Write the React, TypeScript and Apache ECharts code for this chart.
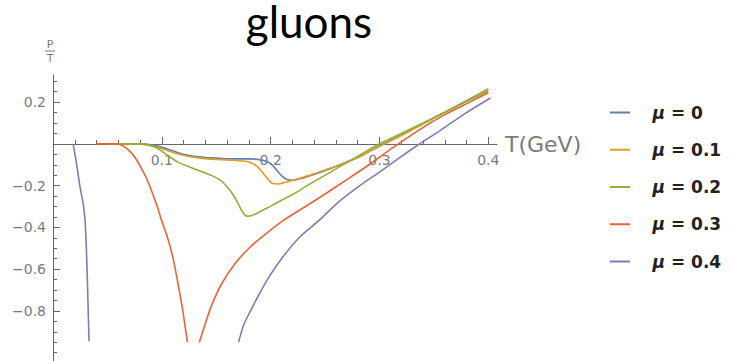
import React, { useEffect, useRef } from 'react';
import * as echarts from 'echarts';

// μ = 0
const T_MU0 = [0.05, 0.08, 0.09, 0.098, 0.107, 0.115, 0.122, 0.13, 0.14, 0.15, 0.16, 0.17, 0.18, 0.188, 0.195, 0.2, 0.205, 0.21, 0.215, 0.221, 0.23, 0.24, 0.252, 0.265, 0.282, 0.3, 0.32, 0.34, 0.36, 0.38, 0.4];
const P_MU0 = [0, 0, -0.004, -0.013, -0.028, -0.042, -0.052, -0.06, -0.065, -0.068, -0.071, -0.072, -0.072, -0.074, -0.082, -0.095, -0.122, -0.152, -0.17, -0.174, -0.163, -0.146, -0.124, -0.097, -0.06, -0.01, 0.043, 0.098, 0.152, 0.207, 0.263];
// μ = 0.1
const T_MU1 = [0.05, 0.075, 0.085, 0.095, 0.105, 0.115, 0.125, 0.135, 0.145, 0.155, 0.165, 0.175, 0.182, 0.188, 0.193, 0.198, 0.202, 0.207, 0.213, 0.222, 0.235, 0.25, 0.265, 0.282, 0.3, 0.32, 0.34, 0.36, 0.38, 0.4];
const P_MU1 = [0, 0, -0.004, -0.015, -0.032, -0.048, -0.06, -0.068, -0.073, -0.076, -0.078, -0.082, -0.09, -0.11, -0.14, -0.172, -0.19, -0.192, -0.185, -0.172, -0.152, -0.125, -0.097, -0.06, -0.012, 0.04, 0.095, 0.15, 0.205, 0.262];
// μ = 0.2
const T_MU2 = [0.05, 0.08, 0.09, 0.098, 0.106, 0.114, 0.122, 0.13, 0.138, 0.146, 0.154, 0.16, 0.165, 0.17, 0.174, 0.178, 0.183, 0.19, 0.2, 0.21, 0.221, 0.232, 0.243, 0.255, 0.268, 0.282, 0.298, 0.32, 0.34, 0.36, 0.38, 0.4];
const P_MU2 = [0, 0, -0.008, -0.028, -0.058, -0.085, -0.104, -0.12, -0.136, -0.152, -0.175, -0.205, -0.24, -0.285, -0.325, -0.346, -0.343, -0.325, -0.298, -0.27, -0.24, -0.205, -0.171, -0.135, -0.095, -0.053, -0.005, 0.05, 0.1, 0.152, 0.203, 0.253];
// μ = 0.3 (two branches)
const T_MU3_LOW = [0.04, 0.059, 0.065, 0.071, 0.076, 0.08, 0.085, 0.089, 0.0956, 0.1, 0.105, 0.11, 0.114, 0.119, 0.1235];
const P_MU3_LOW = [0, 0, -0.012, -0.037, -0.07, -0.105, -0.155, -0.203, -0.298, -0.37, -0.445, -0.54, -0.645, -0.79, -0.95];
const T_MU3_HIGH = [0.1345, 0.14, 0.146, 0.155, 0.167, 0.181, 0.197, 0.213, 0.232, 0.25, 0.268, 0.287, 0.305, 0.316, 0.338, 0.36, 0.383, 0.4];
const P_MU3_HIGH = [-0.95, -0.86, -0.77, -0.67, -0.575, -0.495, -0.425, -0.362, -0.3, -0.24, -0.178, -0.112, -0.045, -0.005, 0.072, 0.14, 0.2, 0.245];
// μ = 0.4 (two branches)
const T_MU4_LOW = [0.0185, 0.0215, 0.0248, 0.0276, 0.0294, 0.0305, 0.0313, 0.0322, 0.0331];
const P_MU4_LOW = [0, -0.09, -0.205, -0.283, -0.362, -0.48, -0.6, -0.77, -0.945];
const T_MU4_HIGH = [0.1705, 0.175, 0.181, 0.189, 0.197, 0.21, 0.227, 0.2455, 0.262, 0.282, 0.3, 0.318, 0.334, 0.356, 0.38, 0.402];
const P_MU4_HIGH = [-0.95, -0.87, -0.805, -0.725, -0.65, -0.55, -0.445, -0.362, -0.28, -0.2, -0.135, -0.068, -0.01, 0.065, 0.15, 0.22];

const SERIES_NAMES = ['μ = 0', 'μ = 0.1', 'μ = 0.2', 'μ = 0.3', 'μ = 0.4'];
const COLORS = ['#5E81B5', '#E19C24', '#8FB032', '#EB6235', '#8778B3'];

const X_MAJOR = [0.1, 0.2, 0.3, 0.4];
const X_MINOR = [0.02, 0.04, 0.06, 0.08, 0.12, 0.14, 0.16, 0.18, 0.22, 0.24, 0.26, 0.28, 0.32, 0.34, 0.36, 0.38];
const Y_MAJOR = [-0.8, -0.6, -0.4, -0.2, 0.2];
const Y_MINOR = [-1.0, -0.95, -0.9, -0.85, -0.75, -0.7, -0.65, -0.55, -0.5, -0.45, -0.35, -0.3, -0.25, -0.15, -0.1, -0.05, 0.05, 0.1, 0.15, 0.25, 0.3];

const X_MIN = 0;
const X_MAX = 0.408;
const Y_MIN = -1.04;
const Y_MAX = 0.33;

const AXIS_COLOR = '#666';
const LABEL_COLOR = '#7a7a7a';
const LABEL_FONT = 'DejaVu Sans';

const pairs = (t: number[], p: number[]) => t.map((v, i) => [v, p[i]]);

function lineSeries(name: string, color: string, data: number[][]) {
  return {
    type: 'line',
    name,
    color,
    data,
    xAxisIndex: 0,
    yAxisIndex: 0,
    showSymbol: false,
    symbol: 'none',
    smooth: 0.25,
    lineStyle: { width: 1.6, color },
    itemStyle: { color },
    z: 3,
  };
}

export default function App() {
  const ref = useRef<HTMLDivElement>(null);
  useEffect(() => {
    if (!ref.current) return;
    const chart = echarts.init(ref.current, null, { renderer: 'svg' });
    const fmt = (v: number) => v.toFixed(1).replace('-', '\u2212');
    const option = {
      animation: false,
      backgroundColor: '#ffffff',
      grid: [
        // plot area
        { left: 53, top: 75, right: 235, bottom: 0, containLabel: false, outerBoundsMode: 'none' },
        // band whose bottom edge is the T axis at P = 0
        { left: 53, top: 75, right: 235, bottom: 217, containLabel: false, outerBoundsMode: 'none' },
      ],
      xAxis: [
        {
          type: 'value',
          gridIndex: 0,
          min: X_MIN,
          max: X_MAX,
          show: false,
        },
        {
          type: 'value',
          gridIndex: 1,
          position: 'bottom',
          min: X_MIN,
          max: X_MAX,
          axisLine: { show: true, onZero: false, lineStyle: { color: AXIS_COLOR, width: 1 } },
          axisTick: { show: true, inside: true, length: 7, customValues: X_MAJOR, lineStyle: { color: AXIS_COLOR } },
          axisLabel: {
            show: true,
            customValues: X_MAJOR,
            formatter: fmt,
            margin: 9,
            color: LABEL_COLOR,
            fontFamily: LABEL_FONT,
            fontSize: 14,
          },
          splitLine: { show: false },
          name: 'T(GeV)',
          nameLocation: 'end',
          nameGap: 8,
          nameTextStyle: { color: LABEL_COLOR, fontFamily: LABEL_FONT, fontSize: 22, verticalAlign: 'middle' },
        },
        {
          type: 'value',
          gridIndex: 1,
          position: 'bottom',
          min: X_MIN,
          max: X_MAX,
          axisLine: { show: false, onZero: false },
          axisTick: { show: true, inside: true, length: 4, customValues: X_MINOR, lineStyle: { color: AXIS_COLOR } },
          axisLabel: { show: false },
          splitLine: { show: false },
        },
      ],
      yAxis: [
        {
          type: 'value',
          gridIndex: 0,
          position: 'left',
          min: Y_MIN,
          max: Y_MAX,
          axisLine: { show: true, onZero: false, lineStyle: { color: AXIS_COLOR, width: 1 } },
          axisTick: { show: true, inside: true, length: 7, customValues: Y_MAJOR, lineStyle: { color: AXIS_COLOR } },
          axisLabel: {
            show: true,
            customValues: Y_MAJOR,
            formatter: fmt,
            margin: 7,
            color: LABEL_COLOR,
            fontFamily: LABEL_FONT,
            fontSize: 14,
          },
          splitLine: { show: false },
        },
        {
          type: 'value',
          gridIndex: 0,
          position: 'left',
          min: Y_MIN,
          max: Y_MAX,
          axisLine: { show: false, onZero: false },
          axisTick: { show: true, inside: true, length: 4, customValues: Y_MINOR, lineStyle: { color: AXIS_COLOR } },
          axisLabel: { show: false },
          splitLine: { show: false },
        },
        {
          type: 'value',
          gridIndex: 1,
          min: 0,
          max: 1,
          show: false,
        },
      ],
      legend: {
        show: true,
        orient: 'vertical',
        left: 605,
        top: 99,
        itemWidth: 33,
        itemHeight: 2,
        itemGap: 20.25,
        icon: 'path://M0 0 H10 V1 H0 Z',
        data: SERIES_NAMES,
        formatter: (name: string) => `{m|μ}{v|${name.slice(1)}}`,
        textStyle: {
          color: '#222',
          fontFamily: LABEL_FONT,
          fontWeight: 'bold',
          fontSize: 17,
          rich: {
            m: { fontFamily: LABEL_FONT, fontStyle: 'italic', fontWeight: 'bold', fontSize: 17, lineHeight: 20, color: '#222', padding: [0, 0, 0, 11] },
            v: { fontFamily: LABEL_FONT, fontWeight: 'bold', fontSize: 17, lineHeight: 20, color: '#222' },
          },
        },
      },
      graphic: [
        {
          type: 'text',
          x: 309,
          y: 21,
          style: { text: 'gluons', font: '44px Lato', fill: '#000', align: 'center', verticalAlign: 'middle' },
        },
        {
          type: 'text',
          x: 50,
          y: 44,
          style: { text: 'P', fontSize: 11, fontFamily: LABEL_FONT, fill: LABEL_COLOR, align: 'center', verticalAlign: 'middle' },
        },
        {
          type: 'line',
          shape: { x1: 45, y1: 51, x2: 55, y2: 51 },
          style: { stroke: LABEL_COLOR, lineWidth: 1 },
        },
        {
          type: 'text',
          x: 50,
          y: 58,
          style: { text: 'T', fontSize: 11, fontFamily: LABEL_FONT, fill: LABEL_COLOR, align: 'center', verticalAlign: 'middle' },
        },
      ],
      series: [
        lineSeries(SERIES_NAMES[0], COLORS[0], pairs(T_MU0, P_MU0)),
        lineSeries(SERIES_NAMES[1], COLORS[1], pairs(T_MU1, P_MU1)),
        lineSeries(SERIES_NAMES[2], COLORS[2], pairs(T_MU2, P_MU2)),
        lineSeries(SERIES_NAMES[3], COLORS[3], pairs(T_MU3_LOW, P_MU3_LOW)),
        lineSeries(SERIES_NAMES[3], COLORS[3], pairs(T_MU3_HIGH, P_MU3_HIGH)),
        lineSeries(SERIES_NAMES[4], COLORS[4], pairs(T_MU4_LOW, P_MU4_LOW)),
        lineSeries(SERIES_NAMES[4], COLORS[4], pairs(T_MU4_HIGH, P_MU4_HIGH)),
      ],
    };
    chart.setOption(option as any);
    return () => chart.dispose();
  }, []);
  return (
    <div
      ref={ref}
      style={{ position: 'absolute', left: 0, top: 0, width: 732, height: 361, background: '#fff' }}
    />
  );
}
